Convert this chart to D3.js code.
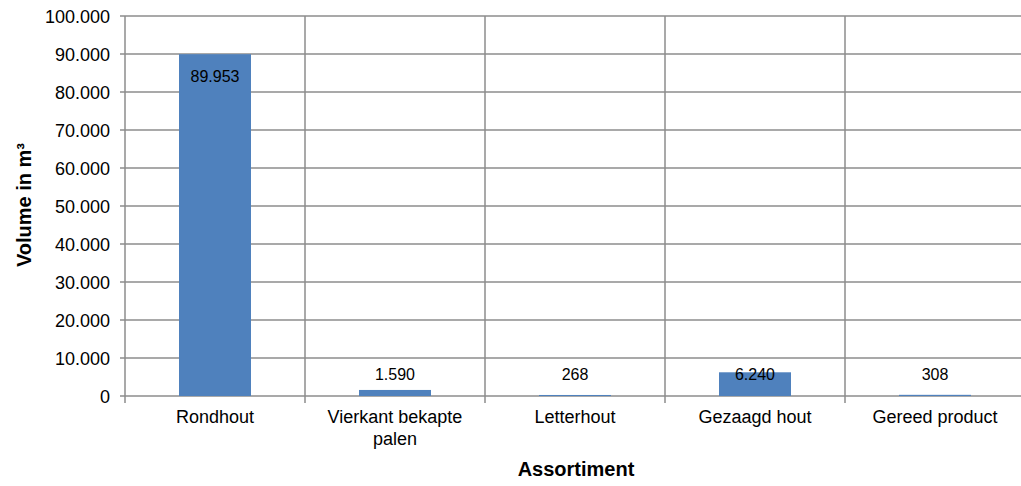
<!DOCTYPE html>
<html><head><meta charset="utf-8">
<script src="https://cdn.jsdelivr.net/npm/d3@7/dist/d3.min.js"></script>
<style>body{margin:0;background:#fff}svg{display:block;font-family:"Liberation Sans",Arial,sans-serif}</style>
</head><body><svg id="c" width="1021" height="486"></svg>
<script>
const categories = [["Rondhout"], ["Vierkant bekapte", "palen"], ["Letterhout"], ["Gezaagd hout"], ["Gereed product"]];
const values = [89953, 1590, 268, 6240, 308];
const valueLabels = ["89.953", "1.590", "268", "6.240", "308"];
const yTicks = [0, 10000, 20000, 30000, 40000, 50000, 60000, 70000, 80000, 90000, 100000];
const yTickLabels = ["0", "10.000", "20.000", "30.000", "40.000", "50.000", "60.000", "70.000", "80.000", "90.000", "100.000"];
const yTitle = "Volume in m³";
const xTitle = "Assortiment";

const svg = d3.select("#c");
const L = 125, R = 1025, T = 16, B = 396;
const grid = "#8c8c8c";
const x = d3.scaleBand().domain(d3.range(values.length)).range([L, R]).paddingInner(0).paddingOuter(0);
const y = d3.scaleLinear().domain([0, 100000]).range([B, T]);

// horizontal gridlines
svg.append("g").selectAll("line").data(yTicks).join("line")
  .attr("x1", L - 5).attr("x2", R).attr("y1", d => y(d)).attr("y2", d => y(d))
  .attr("stroke", grid).attr("stroke-width", 1.5);
// vertical gridlines (category boundaries) with tick extensions
const bounds = d3.range(values.length + 1).map(i => i < values.length ? x(i) : R);
svg.append("g").selectAll("line").data(bounds).join("line")
  .attr("x1", d => d).attr("x2", d => d).attr("y1", T).attr("y2", B + 7)
  .attr("stroke", grid).attr("stroke-width", 1.5);

// bars
const bw = x.bandwidth() / 2.5;
svg.append("g").selectAll("rect").data(values).join("rect")
  .attr("x", (d, i) => x(i) + (x.bandwidth() - bw) / 2)
  .attr("width", bw)
  .attr("y", d => y(d)).attr("height", d => B - y(d))
  .attr("fill", "#4f81bd");

// value labels
svg.append("g").selectAll("text").data(values).join("text")
  .attr("x", (d, i) => x(i) + x.bandwidth() / 2)
  .attr("y", d => d > 50000 ? y(d) + 28 : y(5800) + 6)
  .attr("text-anchor", "middle").attr("font-size", 16).attr("fill", "#000")
  .text((d, i) => valueLabels[i]);

// y tick labels
svg.append("g").selectAll("text").data(yTicks).join("text")
  .attr("x", 110).attr("y", d => y(d) + 6.5)
  .attr("text-anchor", "end").attr("font-size", 18).attr("fill", "#000")
  .text((d, i) => yTickLabels[i]);

// category labels
const cg = svg.append("g").selectAll("text").data(categories).join("text")
  .attr("text-anchor", "middle").attr("font-size", 18).attr("fill", "#000");
cg.selectAll("tspan").data((d, i) => d.map(s => ({s, i}))).join("tspan")
  .attr("x", d => x(d.i) + x.bandwidth() / 2)
  .attr("y", (d, j) => 423 + j * 22)
  .text(d => d.s);

// axis titles
svg.append("text").attr("transform", "translate(31,205) rotate(-90)")
  .attr("text-anchor", "middle").attr("font-size", 20).attr("font-weight", "bold").text(yTitle);
svg.append("text").attr("x", 576).attr("y", 476)
  .attr("text-anchor", "middle").attr("font-size", 20).attr("font-weight", "bold").text(xTitle);
</script></body></html>
